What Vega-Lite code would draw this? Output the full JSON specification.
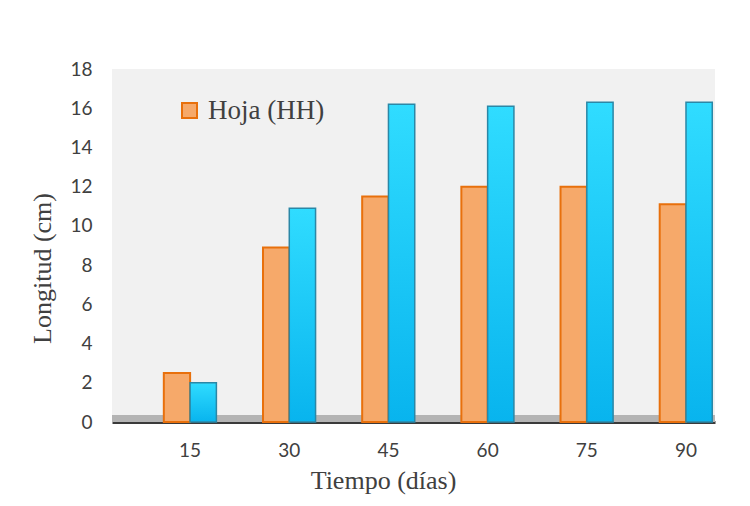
{
  "$schema": "https://vega.github.io/schema/vega-lite/v6.json",
  "width": 603,
  "height": 353,
  "autosize": {"type": "none"},
  "padding": {"left": 112, "top": 69, "right": 35, "bottom": 84},
  "background": "#ffffff",
  "config": {
    "view": {"fill": "#f1f1f1", "stroke": null},
    "axis": {
      "labelFont": "Lato",
      "labelFontSize": 19,
      "labelColor": "#404040",
      "titleFont": "Liberation Serif",
      "titleFontSize": 26,
      "titleFontWeight": "normal",
      "titleColor": "#404040",
      "grid": false,
      "ticks": false
    }
  },
  "data": {
    "values": [
      {"dia": "15", "serie": "Hoja (HH)", "valor": 2.5},
      {"dia": "15", "serie": "Tallo", "valor": 2.0},
      {"dia": "30", "serie": "Hoja (HH)", "valor": 8.9},
      {"dia": "30", "serie": "Tallo", "valor": 10.9},
      {"dia": "45", "serie": "Hoja (HH)", "valor": 11.5},
      {"dia": "45", "serie": "Tallo", "valor": 16.2},
      {"dia": "60", "serie": "Hoja (HH)", "valor": 12.0},
      {"dia": "60", "serie": "Tallo", "valor": 16.1},
      {"dia": "75", "serie": "Hoja (HH)", "valor": 12.0},
      {"dia": "75", "serie": "Tallo", "valor": 16.3},
      {"dia": "90", "serie": "Hoja (HH)", "valor": 11.1},
      {"dia": "90", "serie": "Tallo", "valor": 16.3}
    ]
  },
  "encoding": {
    "x": {
      "field": "dia",
      "type": "nominal",
      "sort": ["15", "30", "45", "60", "75", "90"],
      "scale": {"paddingInner": 0.47, "paddingOuter": 0.275, "align": 0.95},
      "axis": {
        "title": "Tiempo (días)",
        "labelAngle": 0,
        "labelPadding": 19,
        "domain": true,
        "domainColor": "#3a3a3a",
        "domainWidth": 3,
        "titleX": 271,
        "titleY": 66,
        "titleAlign": "center",
        "titleBaseline": "alphabetic"
      }
    },
    "xOffset": {
      "field": "serie",
      "type": "nominal",
      "scale": {"domain": ["Hoja (HH)", "Tallo"], "paddingInner": 0, "paddingOuter": 0}
    },
    "y": {
      "field": "valor",
      "type": "quantitative",
      "scale": {"domain": [0, 18], "nice": false},
      "axis": {
        "title": "Longitud (cm)",
        "values": [0, 2, 4, 6, 8, 10, 12, 14, 16, 18],
        "labelOverlap": false,
        "labelFlush": false,
        "domain": false,
        "labelPadding": 20,
        "titleAngle": -90,
        "titleX": -62,
        "titleY": 199,
        "titleAlign": "center",
        "titleBaseline": "alphabetic"
      }
    }
  },
  "layer": [
    {
      "mark": {"type": "rect", "fill": "#b4b4b4"},
      "encoding": {
        "x": null,
        "xOffset": null,
        "y": {"datum": 0, "type": "quantitative"},
        "y2": {"datum": 0.35}
      }
    },
    {
      "transform": [{"filter": "datum.serie === 'Hoja (HH)'"}],
      "mark": {"type": "bar", "stroke": "#e8700c", "strokeWidth": 2, "fillOpacity": 1},
      "encoding": {
        "color": {
          "field": "serie",
          "type": "nominal",
          "scale": {"domain": ["Hoja (HH)"], "range": ["#f6a96a"]},
          "legend": {
            "title": null,
            "orient": "none",
            "legendX": 64,
            "legendY": 28,
            "padding": 0,
            "symbolType": "square",
            "symbolSize": 225,
            "symbolStrokeColor": "#e8700c",
            "symbolStrokeWidth": 2,
            "symbolOpacity": 1,
            "labelFont": "Liberation Serif",
            "labelFontSize": 27,
            "labelColor": "#404040",
            "labelOffset": 5
          }
        }
      }
    },
    {
      "transform": [{"filter": "datum.serie === 'Tallo'"}],
      "mark": {
        "type": "bar",
        "stroke": "#2b87a6",
        "strokeWidth": 1.5,
        "fill": {
          "gradient": "linear",
          "x1": 0, "y1": 0, "x2": 0, "y2": 1,
          "stops": [
            {"offset": 0, "color": "#30dcff"},
            {"offset": 1, "color": "#08b4ee"}
          ]
        }
      }
    }
  ]
}
